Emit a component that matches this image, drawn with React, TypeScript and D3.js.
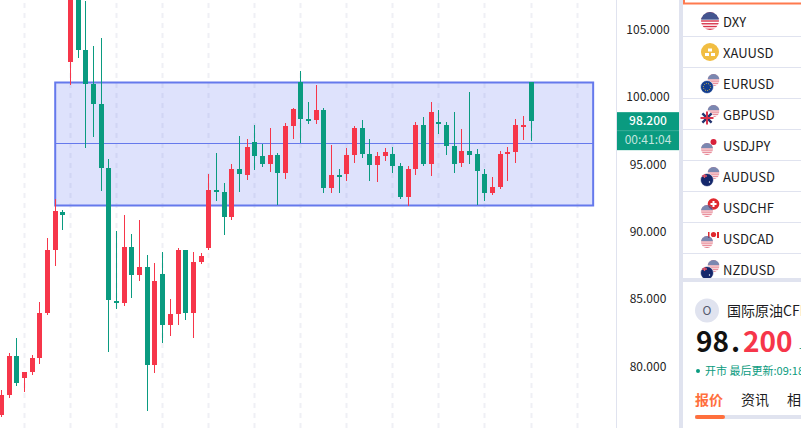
import React from "react";
import * as d3 from "d3";

const opens = [76.4, 77.88, 80.77, 79.14, 79.59, 80.63, 83.97, 88.64, 91.46, 102.59, 107.8, 103.48, 100.96, 99.47, 94.72, 84.86, 84.71, 88.86, 86.78, 87.38, 80.11, 86.86, 83.07, 83.89, 88.64, 83.97, 87.75, 88.79, 93.09, 92.94, 91.09, 94.65, 94.2, 96.65, 95.62, 95.02, 95.69, 94.35, 97.84, 101.11, 98.36, 98.29, 99.03, 93.24, 94.2, 94.28, 95.69, 97.69, 95.76, 94.95, 95.62, 95.76, 94.87, 92.57, 94.65, 97.91, 95.02, 98.14, 97.91, 96.36, 95.1, 95.99, 95.76, 94.28, 92.87, 93.31, 95.76, 95.91, 97.84, 101.11];
const closes = [77.88, 80.77, 78.77, 79.59, 80.63, 83.97, 88.64, 91.53, 91.24, 107.8, 103.48, 100.96, 99.47, 94.72, 84.93, 84.71, 88.86, 86.78, 87.38, 80.11, 86.34, 83.07, 83.89, 88.64, 83.97, 87.75, 88.19, 93.09, 92.94, 91.09, 94.65, 94.28, 96.28, 95.62, 95.02, 95.69, 94.35, 97.84, 99.1, 98.36, 98.29, 99.03, 93.24, 94.2, 94.13, 95.69, 97.69, 95.76, 94.95, 95.62, 95.91, 94.87, 92.57, 94.65, 97.91, 95.02, 98.88, 98.0, 96.36, 95.02, 95.99, 95.69, 94.5, 92.87, 93.31, 95.76, 95.91, 97.91, 97.91, 98.2];
const highs = [78.25, 81.0, 82.11, 79.59, 80.85, 84.78, 89.53, 92.42, 91.61, 108.2, 108.5, 107.12, 103.78, 104.37, 95.39, 90.05, 91.24, 89.83, 90.87, 88.27, 87.68, 88.49, 85.0, 88.79, 88.64, 88.49, 88.42, 94.28, 95.84, 93.61, 95.02, 97.1, 96.88, 97.91, 96.5, 97.69, 95.84, 98.06, 99.18, 101.92, 99.62, 100.88, 99.18, 96.43, 94.65, 96.21, 97.84, 98.29, 96.88, 95.91, 96.21, 96.28, 95.1, 94.87, 98.14, 98.51, 99.62, 99.03, 98.14, 98.88, 97.62, 100.36, 96.13, 94.65, 94.06, 95.99, 96.28, 98.36, 98.58, 101.11];
const lows = [76.25, 77.66, 78.55, 78.1, 79.37, 80.18, 83.82, 87.45, 90.12, 100.88, 102.89, 96.21, 97.03, 93.02, 81.07, 84.26, 84.48, 85.08, 86.34, 76.69, 79.51, 81.74, 82.26, 83.07, 83.45, 82.11, 87.6, 88.64, 92.28, 89.75, 90.87, 92.94, 93.83, 94.58, 94.8, 94.43, 91.98, 93.91, 96.88, 96.58, 98.0, 98.0, 92.87, 92.87, 92.87, 93.76, 95.1, 95.47, 93.76, 93.69, 95.24, 94.35, 92.42, 91.9, 94.2, 94.87, 94.13, 97.25, 95.69, 94.35, 94.8, 95.02, 91.98, 92.28, 92.72, 93.17, 93.76, 95.1, 96.8, 96.73];

const priceTicks = [105, 100, 95, 90, 85, 80];
const gridIndexes = [3, 9, 15, 21, 27, 33, 39, 45, 51, 57, 63, 69, 75];
const boxPrices = [101.11, 91.98];
const boxIndexes = [7, 77.1];
const lastPrice = 98.2;
const countdown = "00:41:04";

const symbols = ["DXY", "XAUUSD", "EURUSD", "GBPUSD", "USDJPY", "AUDUSD", "USDCHF", "USDCAD", "NZDUSD"];
const detailTabs = ["报价", "资讯", "相关"];

const RED = "#f6364a";
const GREEN = "#0a9b80";
const BLUE = "#6579ec";
const LINE = "#e0e3ef";
const FONT = "'Noto Sans CJK SC', 'Noto Sans', sans-serif";

const x = d3.scaleLinear().domain([0, 69]).range([1.5, 531]);
const y = d3.scaleLinear().domain([105, 80]).range([29.5, 366.5]);
const px = (i: number) => Math.floor(x(i));

const UsFlag = ({ cx, cy, r, id, fade }: any) => {
  const stripes = d3.range(0, 7);
  return (
    <g opacity={fade ? 0.7 : 1}>
      <clipPath id={id}>
        <circle cx={cx} cy={cy} r={r} />
      </clipPath>
      <g clipPath={`url(#${id})`}>
        <rect x={cx - r} y={cy - r} width={2 * r} height={2 * r} fill="#fff" />
        {stripes.map((s) => (
          <rect key={s} x={cx - r} y={cy - r + (s * 2 * r) / 6.5} width={2 * r} height={r / 6.5} fill="#d8324a" />
        ))}
        <rect x={cx - r} y={cy - r} width={2 * r} height={r * 0.85} fill="#44558f" />
      </g>
    </g>
  );
};

const Disc = ({ cx, cy, r, fill, children }: any) => (
  <g>
    <circle cx={cx} cy={cy} r={r} fill={fill} stroke="#fff" strokeWidth={0.6} />
    {children}
  </g>
);

const Foreign = ({ name, cx, cy }: any) => {
  const r = 6.5;
  if (name === "EUR") {
    return (
      <Disc cx={cx} cy={cy} r={r} fill="#123d8f">
        <circle cx={cx} cy={cy} r={3.6} fill="none" stroke="#e8c23a" strokeWidth={1} strokeDasharray="1 1.2" />
      </Disc>
    );
  }
  if (name === "GBP") {
    return (
      <Disc cx={cx} cy={cy} r={r} fill="#fff">
        <path d={`M${cx - 4.6} ${cy - 4.6}L${cx + 4.6} ${cy + 4.6}M${cx + 4.6} ${cy - 4.6}L${cx - 4.6} ${cy + 4.6}`} stroke="#23346f" strokeWidth={2.4} />
        <path d={`M${cx - r} ${cy}H${cx + r}M${cx} ${cy - r}V${cy + r}`} stroke="#d8324a" strokeWidth={2} />
      </Disc>
    );
  }
  // AUD and NZD look the same at this size
  return (
    <Disc cx={cx} cy={cy} r={r} fill="#14276b">
      <path d={`M${cx - 5} ${cy - 4}H${cx}M${cx - 2.5} ${cy - 6}V${cy - 2}`} stroke="#e2566a" strokeWidth={1.3} />
      <circle cx={cx + 2.5} cy={cy + 2} r={0.7} fill="#fff" />
    </Disc>
  );
};

const FlagIcon = ({ name, cy }: { name: string; cy: number }) => {
  const base = 710;
  if (name === "DXY") return <UsFlag cx={base} cy={cy - 1} r={9} id="us-dxy" />;
  if (name === "XAUUSD") {
    return (
      <g>
        <circle cx={base} cy={cy - 1} r={9} fill="#f1bd42" />
        <rect x={base - 2} y={cy - 4.5} width={4} height={3} fill="#fff" />
        <rect x={base - 5} y={cy} width={4} height={3} fill="#fff" />
        <rect x={base + 1} y={cy} width={4} height={3} fill="#fff" />
      </g>
    );
  }
  const front = { cx: 707, cy: cy + 3 };
  const back = { cx: 713.5, cy: cy - 4 };
  const code = name.replace("USD", "");
  if (name.startsWith("USD")) {
    return (
      <g>
        {code === "JPY" && (
          <g>
            <circle cx={back.cx} cy={back.cy} r={5.5} fill="#fff" />
            <circle cx={back.cx} cy={back.cy} r={3} fill="#d8203a" />
          </g>
        )}
        {code === "CHF" && (
          <g>
            <circle cx={back.cx} cy={back.cy} r={5.8} fill="#e0282e" />
            <path d={`M${back.cx - 3} ${back.cy}H${back.cx + 3}M${back.cx} ${back.cy - 3}V${back.cy + 3}`} stroke="#fff" strokeWidth={2} />
          </g>
        )}
        {code === "CAD" && (
          <g>
            <rect x={back.cx - 5} y={back.cy - 3} width={10} height={6} fill="#fff" />
            <circle cx={back.cx} cy={back.cy - 0.5} r={2.6} fill="#e0282e" />
            <rect x={back.cx + 3.5} y={back.cy - 3} width={2} height={6} fill="#e0282e" />
            <rect x={back.cx - 5.5} y={back.cy - 3} width={1.5} height={6} fill="#e0282e" />
          </g>
        )}
        <UsFlag cx={front.cx} cy={front.cy} r={6} id={`us-${name}`} fade />
      </g>
    );
  }
  return (
    <g>
      <UsFlag cx={back.cx} cy={back.cy} r={6} id={`us-${name}`} fade />
      <Foreign name={code} cx={front.cx} cy={front.cy} />
    </g>
  );
};

const App = () => {
  const boxLeft = x(boxIndexes[0]);
  const boxRight = x(boxIndexes[1]);
  const boxTop = Math.round(y(boxPrices[0])) + 0.5;
  const boxBottom = Math.round(y(boxPrices[1])) + 0.5;
  const boxMid = Math.floor((boxTop + boxBottom) / 2) - 0.5;
  const labelY = y(lastPrice);
  const [whole, part] = lastPrice.toFixed(3).split(".");

  return (
    <svg width={801} height={428} style={{ position: "fixed", left: 0, top: 0, background: "#fff", fontFamily: FONT }}>
      <defs>
        <clipPath id="plot">
          <rect x={0} y={0} width={616} height={428} />
        </clipPath>
      </defs>

      {gridIndexes.map((g) => (
        <line key={g} x1={px(g) + 0.5} x2={px(g) + 0.5} y1={3} y2={428} stroke="#eff0f5" strokeWidth={2} strokeDasharray="5 5" />
      ))}

      <rect x={boxLeft} y={boxTop} width={boxRight - boxLeft} height={boxBottom - boxTop} fill="#5a6ff0" fillOpacity={0.2} stroke={BLUE} strokeWidth={2} />
      <line x1={boxLeft} x2={boxRight} y1={boxMid} y2={boxMid} stroke={BLUE} strokeWidth={1} />

      <g clipPath="url(#plot)">
        {opens.map((o, i) => {
          const c = closes[i];
          const color = c >= o ? RED : GREEN;
          const top = Math.round(y(Math.max(o, c)));
          const bottom = Math.round(y(Math.min(o, c)));
          const hi = Math.round(y(highs[i]));
          const lo = Math.round(y(lows[i]));
          return (
            <g key={i} fill={color}>
              <rect x={px(i)} y={hi} width={1} height={lo - hi} />
              <rect x={px(i) - 2} y={top} width={5} height={Math.max(bottom - top, 2)} />
            </g>
          );
        })}
      </g>

      {/* price axis */}
      <line x1={616.5} x2={616.5} y1={0} y2={428} stroke={LINE} />
      {priceTicks.map((t) => (
        <text key={t} x={648} y={y(t)} dy="0.35em" textAnchor="middle" fontSize={12} fill="#222">
          {t.toFixed(3)}
        </text>
      ))}
      <rect x={617} y={labelY - 9} width={62} height={38} fill={GREEN} />
      <line x1={617} x2={679} y1={labelY + 9.5} y2={labelY + 9.5} stroke="#3aae98" />
      <text x={648} y={labelY} dy="0.35em" textAnchor="middle" fontSize={12} fill="#fff" fontWeight={500}>
        {lastPrice.toFixed(3)}
      </text>
      <text x={648} y={labelY + 19} dy="0.35em" textAnchor="middle" fontSize={12} fill="#fff" fillOpacity={0.75}>
        {countdown}
      </text>

      {/* watch list */}
      <rect x={679} y={0} width={4} height={428} fill={LINE} />
      <path d="M684 0V3.5H801" fill="none" stroke="#ff7a4f" strokeWidth={2} />
      {symbols.map((s, i) => {
        const cy = 22 + i * 31;
        return (
          <g key={s}>
            <FlagIcon name={s} cy={cy} />
            <text x={723} y={cy} dy="0.36em" fontSize={13} fill="#1c1c22">
              {s}
            </text>
            {i < symbols.length - 1 && <line x1={683} x2={801} y1={cy + 14.5} y2={cy + 14.5} stroke={LINE} />}
          </g>
        );
      })}
      <rect x={679} y={278} width={122} height={4} fill={LINE} />

      {/* quote panel */}
      <circle cx={707} cy={310.5} r={12} fill={LINE} />
      <text x={707} y={311} dy="0.35em" textAnchor="middle" fontSize={12} fill="#555a6e">
        O
      </text>
      <text x={727} y={311} dy="0.35em" fontSize={14} fill="#1c1c22">
        国际原油CFD
      </text>
      <text y={352} fontSize={28} fontWeight={700}>
        <tspan x={696} fill="#111">{whole}</tspan>
        <tspan x={731} fill="#111">.</tspan>
        <tspan x={743} fill={RED}>{part}</tspan>
      </text>
      <text x={799} y={352} fontSize={12} fill={GREEN}>-</text>
      <circle cx={698} cy={371} r={2} fill={GREEN} />
      <text x={705} y={375} fontSize={11} fill={GREEN}>
        开市 最后更新:09:18
      </text>
      {detailTabs.map((tab, i) => (
        <text key={tab} x={695 + i * 46} y={405} fontSize={14} fontWeight={i === 0 ? 700 : 400} fill={i === 0 ? "#ff6f3d" : "#1c1c22"}>
          {tab}
        </text>
      ))}
      <rect x={695} y={415} width={106} height={4} fill={LINE} />
      <rect x={695} y={415} width={30} height={4} rx={2} fill="#ff6f3d" />
    </svg>
  );
};

export default App;
